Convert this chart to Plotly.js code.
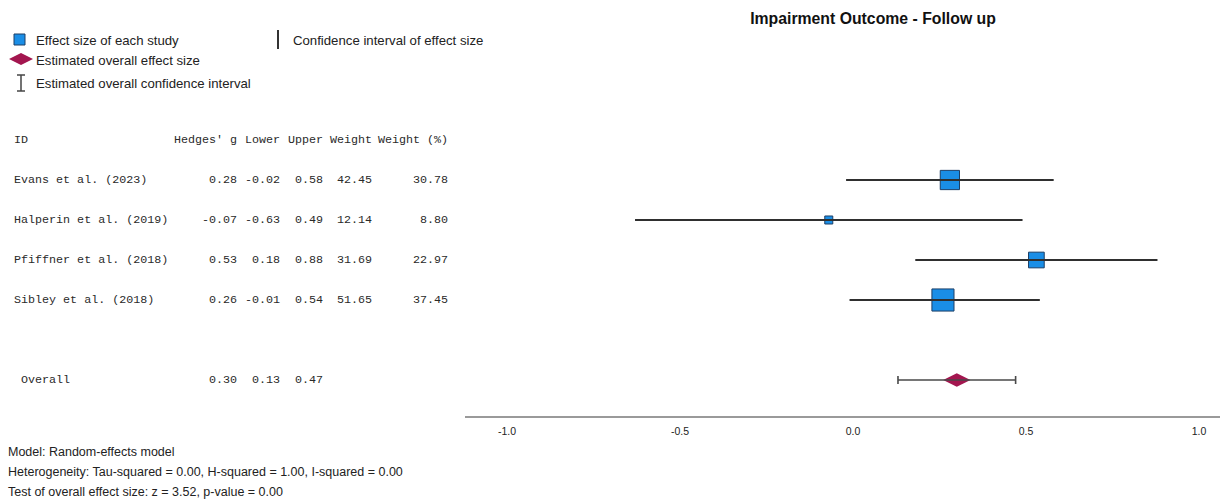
<!DOCTYPE html>
<html><head><meta charset="utf-8">
<script src="https://cdn.plot.ly/plotly-3.0.1.min.js"></script>
<style>body{margin:0;background:#fff}#chart{width:1220px;height:502px}</style>
</head><body><div id="chart"></div>
<script>
// ---- data ----
const studies = ["Evans et al. (2023)", "Halperin et al. (2019)", "Pfiffner et al. (2018)", "Sibley et al. (2018)"];
const hedgesG = [0.28, -0.07, 0.53, 0.26];
const lowerCI = [-0.02, -0.63, 0.18, -0.01];
const upperCI = [0.58, 0.49, 0.88, 0.54];
const weights = [42.45, 12.14, 31.69, 51.65];
const weightPct = [30.78, 8.80, 22.97, 37.45];
const overallLabel = "Overall";
const overallValues = [0.30, 0.13, 0.47]; // g, lower, upper
const columnHeaders = ["ID", "Hedges' g", "Lower", "Upper", "Weight", "Weight (%)"];
const xTicks = [-1.0, -0.5, 0.0, 0.5, 1.0];
const chartTitle = "Impairment Outcome - Follow up";
const legendLabels = ["Effect size of each study", "Confidence interval of effect size", "Estimated overall effect size", "Estimated overall confidence interval"];
const footnotes = ["Model: Random-effects model", "Heterogeneity: Tau-squared = 0.00, H-squared = 1.00, I-squared = 0.00", "Test of overall effect size: z = 3.52, p-value = 0.00"];

// ---- layout helpers ----
const W = 1220, H = 502;
const px = x => x / W;
const py = y => 1 - y / H;
const studyRows = studies.map((_, i) => i + 1);
const overallRow = studies.length + 2;
const [oG, oL, oU] = overallValues;

const traces = [
  { // study squares
    type: 'scatter', mode: 'markers', x: hedgesG, y: studyRows, hoverinfo: 'skip',
    marker: { symbol: 'square', opacity: 1, size: weightPct.map(w => 1.75 * Math.pow(w, 0.7)), color: '#1a8ee6', line: { color: '#1d3f66', width: 1 } }
  },
  { // study CIs on top
    type: 'scatter', mode: 'markers', x: hedgesG, y: studyRows, hoverinfo: 'skip',
    marker: { size: 1, color: 'rgba(0,0,0,0)' },
    error_x: { type: 'data', symmetric: false, array: upperCI.map((u, i) => u - hedgesG[i]), arrayminus: hedgesG.map((g, i) => g - lowerCI[i]), width: 0, thickness: 2.2, color: '#2f2f2f' }
  },
  { // overall diamond
    type: 'scatter', mode: 'markers', x: [oG], y: [overallRow], hoverinfo: 'skip',
    marker: { symbol: 'diamond-wide', opacity: 1, size: 19.5, color: '#a3164f', line: { width: 0 } }
  },
  { // overall CI with caps
    type: 'scatter', mode: 'markers', x: [oG], y: [overallRow], hoverinfo: 'skip',
    marker: { size: 1, color: 'rgba(0,0,0,0)' },
    error_x: { type: 'data', symmetric: false, array: [oU - oG], arrayminus: [oG - oL], width: 4, thickness: 1.6, color: '#4a4a4a' }
  }
];

const monoFont = { family: 'Liberation Mono, Courier New, monospace', size: 11.7, color: '#2a2a2a' };
const sansFont = { family: 'Liberation Sans, Arial, sans-serif', size: 13.2, color: '#222' };
const annotations = [];
const colRight = [239, 282, 325, 374, 450];

// header
annotations.push({ xref: 'paper', yref: 'y', x: px(12), y: 0, xanchor: 'left', yanchor: 'middle', text: columnHeaders[0], showarrow: false, font: monoFont });
columnHeaders.slice(1).forEach((h, j) => annotations.push({ xref: 'paper', yref: 'y', x: px(colRight[j]), y: 0, xanchor: 'right', yanchor: 'middle', text: h, showarrow: false, font: monoFont }));
// study rows
studies.forEach((s, i) => {
  const vals = [hedgesG[i].toFixed(2), lowerCI[i].toFixed(2), upperCI[i].toFixed(2), weights[i].toFixed(2), weightPct[i].toFixed(2)];
  annotations.push({ xref: 'paper', yref: 'y', x: px(12), y: studyRows[i], xanchor: 'left', yanchor: 'middle', text: s, showarrow: false, font: monoFont });
  vals.forEach((v, j) => annotations.push({ xref: 'paper', yref: 'y', x: px(colRight[j]), y: studyRows[i], xanchor: 'right', yanchor: 'middle', text: v, showarrow: false, font: monoFont }));
});
// overall row
annotations.push({ xref: 'paper', yref: 'y', x: px(19), y: overallRow, xanchor: 'left', yanchor: 'middle', text: overallLabel, showarrow: false, font: monoFont });
overallValues.forEach((v, j) => annotations.push({ xref: 'paper', yref: 'y', x: px(colRight[j]), y: overallRow, xanchor: 'right', yanchor: 'middle', text: v.toFixed(2), showarrow: false, font: monoFont }));

// legend texts
const legendPos = [[34, 40], [291, 40], [34, 60], [34, 84]];
legendLabels.forEach((t, i) => annotations.push({ xref: 'paper', yref: 'paper', x: px(legendPos[i][0]), y: py(legendPos[i][1]), xanchor: 'left', yanchor: 'middle', text: t, showarrow: false, font: sansFont }));
// footnotes
footnotes.forEach((t, i) => annotations.push({ xref: 'paper', yref: 'paper', x: px(6), y: py(452 + 20 * i), xanchor: 'left', yanchor: 'middle', text: t, showarrow: false, font: { family: 'Liberation Sans, Arial, sans-serif', size: 12.5, color: '#222' } }));

// legend glyphs
const shapes = [
  { type: 'rect', xref: 'paper', yref: 'paper', x0: px(14), x1: px(25), y0: py(45), y1: py(34), fillcolor: '#1a8ee6', line: { color: '#1d3f66', width: 1 } },
  { type: 'line', xref: 'paper', yref: 'paper', x0: px(278), x1: px(278), y0: py(30), y1: py(49), line: { color: '#333', width: 2 } },
  { type: 'path', xref: 'paper', yref: 'paper', path: `M ${px(9)} ${py(59)} L ${px(21)} ${py(53)} L ${px(33)} ${py(59)} L ${px(21)} ${py(65)} Z`, fillcolor: '#a3164f', line: { width: 0 } },
  { type: 'line', xref: 'paper', yref: 'paper', x0: px(21), x1: px(21), y0: py(75), y1: py(91), line: { color: '#444', width: 1.5 } },
  { type: 'line', xref: 'paper', yref: 'paper', x0: px(17), x1: px(25), y0: py(75), y1: py(75), line: { color: '#444', width: 1.5 } },
  { type: 'line', xref: 'paper', yref: 'paper', x0: px(17), x1: px(25), y0: py(91), y1: py(91), line: { color: '#444', width: 1.5 } }
];

const layout = {
  width: W, height: H, autosize: false,
  margin: { l: 0, r: 0, t: 0, b: 0 },
  paper_bgcolor: '#fff', plot_bgcolor: '#fff',
  showlegend: false,
  title: { text: chartTitle, x: px(873), xanchor: 'center', xref: 'paper', y: py(18), yanchor: 'middle', yref: 'paper', font: { family: 'Liberation Sans, Arial, sans-serif', size: 15.8, color: '#111', weight: 'bold' } },
  xaxis: {
    domain: [px(465), 1], range: [(465 - 853) / 346, (1220 - 853) / 346],
    tickvals: xTicks, ticktext: xTicks.map(v => v.toFixed(1)), ticks: '', ticklabelstandoff: 4,
    showgrid: false, zeroline: false, showline: true, linecolor: '#9a9a9a', linewidth: 2,
    tickfont: { family: 'Liberation Sans Narrow, Arial Narrow, Liberation Sans, sans-serif', size: 10.5, color: '#222' },
    fixedrange: true
  },
  yaxis: {
    domain: [py(416), 1], range: [6.9, -3.5], visible: false, showgrid: false, zeroline: false, fixedrange: true
  },
  annotations: annotations, shapes: shapes
};

Plotly.newPlot('chart', traces, layout, { displayModeBar: false, staticPlot: true });
</script></body></html>
